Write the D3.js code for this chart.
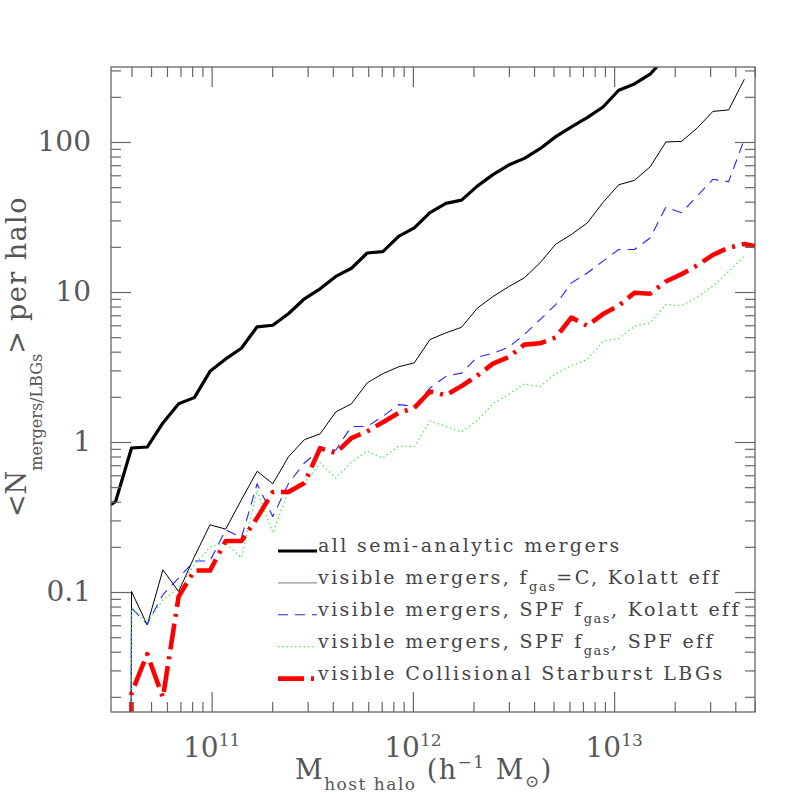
<!DOCTYPE html>
<html>
<head>
<meta charset="utf-8">
<script src="https://cdn.jsdelivr.net/npm/d3@7"></script>
<style>
  body { margin: 0; background: #fff; }
  svg { display: block; }
  text { font-family: "DejaVu Serif", serif; white-space: pre; }
</style>
</head>
<body>
<svg width="797" height="797"></svg>
<script>
// log10 of host halo mass (h^-1 Msun), one entry per mass bin
var logMass = [10.445, 10.523, 10.602, 10.680, 10.758, 10.836, 10.914, 10.992, 11.070, 11.148,
               11.226, 11.304, 11.383, 11.461, 11.539, 11.617, 11.695, 11.773, 11.851, 11.929,
               12.007, 12.085, 12.164, 12.242, 12.320, 12.398, 12.476, 12.554, 12.632, 12.710,
               12.788, 12.866, 12.945, 13.023, 13.101, 13.179, 13.257, 13.335, 13.413, 13.491,
               13.569, 13.647, 13.726];

// <N> per halo for each model (null = not plotted, 0 = no mergers in that bin)
var allMergers = [0.345, 0.401, 0.912, 0.926, 1.339, 1.80, 1.976, 2.96, 3.58, 4.22,
                  5.86, 6.00, 7.19, 9.01, 10.5, 12.7, 14.4, 18.2, 18.6, 23.5,
                  26.8, 33.8, 39.0, 41.0, 50.8, 60.6, 70.2, 77.8, 90.3, 108.6,
                  126.3, 145.5, 171.2, 221.4, 243.9, 283.1, 370, null, null, null,
                  null, null, null];

var visKolatt = [null, 0, 0.1007, 0.0603, 0.1405, 0.1007, 0.1715, 0.2805, 0.2625, 0.412,
                 0.638, 0.527, 0.801, 1.036, 1.133, 1.586, 1.80, 2.476, 2.857, 3.17,
                 3.37, 4.82, 5.34, 5.82, 7.80, 9.33, 10.85, 12.44, 15.66, 20.85,
                 24.2, 28.8, 39.6, 51.9, 55.5, 68.3, 100, 101, 124, 160,
                 163.6, 262, null];

var visSpfKolatt = [null, 0, 0.0783, 0.061, 0.096, 0.124, 0.161, 0.161, 0.26, 0.23,
                    0.527, 0.319, 0.532, 0.724, 0.888, 0.884, 1.27, 1.27, 1.48, 1.775,
                    1.73, 2.29, 2.74, 2.88, 3.68, 3.90, 4.29, 5.20, 6.55, 8.25,
                    11.5, 13.4, 16.05, 19.2, 19.2, 22.9, 36.8, 33.8, 43.7, 56.4,
                    54.4, 104, null];

var visSpfSpf = [null, 0, 0.0783, 0.0627, 0.0886, 0.1065, 0.1517, 0.20, 0.213, 0.169,
                 0.477, 0.247, 0.48, 0.532, 0.724, 0.575, 0.733, 0.871, 0.782, 0.94,
                 0.93, 1.381, 1.27, 1.168, 1.388, 1.796, 2.08, 2.44, 2.34, 2.85,
                 3.23, 3.54, 4.69, 4.89, 5.91, 6.23, 8.25, 8.09, 9.26, 10.96,
                 13.7, 17.3, null];

var visLBG = [null, 0, 0.0212, 0.0386, 0.0198, 0.0932, 0.139, 0.139, 0.219, 0.219,
              0.312, 0.4636, 0.465, 0.532, 0.909, 0.845, 1.063, 1.177, 1.356, 1.562,
              1.687, 2.17, 2.05, 2.36, 2.77, 3.33, 3.68, 4.46, 4.55, 4.98,
              6.76, 5.95, 7.13, 8.10, 9.88, 9.74, 11.75, 13.15, 15.08, 17.66,
              19.72, 20.9, 19.9];

// legend labels, split into [text, "sub"] pieces
var legendLabels = [
    [["all semi-analytic mergers"]],
    [["visible mergers, f"], ["gas", "sub"], ["=C, Kolatt eff"]],
    [["visible mergers, SPF f"], ["gas", "sub"], [", Kolatt eff"]],
    [["visible mergers, SPF f"], ["gas", "sub"], [", SPF eff"]],
    [["visible Collisional Starburst LBGs"]]
];

var yTickLabels = {0.1: "0.1", 1: "1", 10: "10", 100: "100"};

// styles for each series (same order as legend)
var seriesData = [allMergers, visKolatt, visSpfKolatt, visSpfSpf, visLBG];
var seriesStyle = [
    {color: "#000", width: 3.2, dash: null},
    {color: "#000", width: 1, dash: null},
    {color: "#2222ff", width: 1.1, dash: "10,7"},
    {color: "#33ee33", width: 1.3, dash: "1.3,3"},
    {color: "#ff0000", width: 4.6, dash: "26,7,3,7"}
];

var svg = d3.select("svg");

// plot frame in pixels (note: "top" is taken by window.top)
var frameL = 111, frameR = 755, frameT = 67, frameB = 712;

var x = d3.scaleLog()
    .domain([Math.pow(10, 10.5), Math.pow(10, 13.7)])
    .range([frameL, frameR]);

var y = d3.scaleLog()
    .domain([Math.pow(10, -1.8), Math.pow(10, 2.5)])
    .range([frameB, frameT]);

function isDecade(v) {
    var l = Math.log10(v);
    return Math.abs(l - Math.round(l)) < 1e-9;
}

var xMajor = x.ticks().filter(isDecade),
    xMinor = x.ticks().filter(function (v) { return !isDecade(v); }),
    yMajor = y.ticks().filter(isDecade),
    yMinor = y.ticks().filter(function (v) { return !isDecade(v); });

// clip so lines stay inside the frame
svg.append("clipPath").attr("id", "plotClip")
    .append("rect")
    .attr("x", frameL).attr("y", frameT)
    .attr("width", frameR - frameL).attr("height", frameB - frameT);

// curves
var line = d3.line()
    .defined(function (d) { return d.v !== null; })
    .x(function (d) { return x(Math.pow(10, d.m)); })
    .y(function (d) { return y(Math.max(d.v, 1e-30)); }); // zero bins drop straight off the bottom

var curves = svg.append("g").attr("clip-path", "url(#plotClip)");
seriesData.forEach(function (vals, k) {
    var pts = logMass.map(function (m, i) { return {m: m, v: vals[i]}; });
    var st = seriesStyle[k];
    curves.append("path")
        .datum(pts)
        .attr("d", line)
        .attr("fill", "none")
        .attr("stroke", st.color)
        .attr("stroke-width", st.width)
        .attr("stroke-dasharray", st.dash)
        .attr("stroke-linejoin", "round");
});

// ticks on all four sides, pointing inward
var tickColor = "#666";
function addAxis(axisFn, scale, values, size, tx, ty) {
    var g = svg.append("g")
        .attr("transform", "translate(" + tx + "," + ty + ")")
        .call(axisFn(scale).tickValues(values).tickSize(size).tickFormat(""));
    g.select(".domain").remove();
    g.attr("color", tickColor).selectAll("line").attr("stroke-width", 1.2);
    return g;
}
addAxis(d3.axisBottom, x, xMinor, -10, 0, frameB);
addAxis(d3.axisBottom, x, xMajor, -20, 0, frameB);
addAxis(d3.axisTop, x, xMinor, -10, 0, frameT);
addAxis(d3.axisTop, x, xMajor, -20, 0, frameT);
addAxis(d3.axisLeft, y, yMinor, -10, frameL, 0);
addAxis(d3.axisRight, y, yMinor, -10, frameR, 0);
addAxis(d3.axisRight, y, yMajor, -20, frameR, 0);

// left major ticks carry the labels
var yAxisG = svg.append("g")
    .attr("transform", "translate(" + frameL + ",0)")
    .call(d3.axisLeft(y).tickValues(yMajor).tickSize(-20).tickPadding(20)
        .tickFormat(function (d) { return yTickLabels[d]; }));
yAxisG.select(".domain").remove();
yAxisG.attr("color", "#595959").attr("font-size", 28).attr("font-family", "DejaVu Serif, serif");
yAxisG.selectAll("line").attr("stroke", tickColor).attr("stroke-width", 1.2);

// frame
svg.append("rect")
    .attr("x", frameL).attr("y", frameT)
    .attr("width", frameR - frameL).attr("height", frameB - frameT)
    .attr("fill", "none")
    .attr("stroke", tickColor)
    .attr("stroke-width", 1.3);

// x tick labels 10^n
xMajor.forEach(function (v) {
    var t = svg.append("text")
        .attr("x", x(v)).attr("y", 757)
        .attr("text-anchor", "middle")
        .attr("fill", "#595959")
        .attr("font-size", 28);
    t.append("tspan").text("10");
    t.append("tspan").attr("font-size", 17).attr("dy", -11).text(Math.round(Math.log10(v)));
});

// text made of pieces with their own baseline shift and size
function richText(t, parts) {
    var cur = 0;
    parts.forEach(function (p) {
        var ts = t.append("tspan").text(p.text).attr("dy", p.shift - cur);
        if (p.size) ts.attr("font-size", p.size);
        if (p.ls !== undefined) ts.attr("letter-spacing", p.ls);
        cur = p.shift;
    });
}

// axis titles
var xTitle = svg.append("text")
    .attr("x", 295).attr("y", 779)
    .attr("fill", "#555")
    .attr("font-size", 27)
    .attr("letter-spacing", 1.5);
richText(xTitle, [
    {text: "M", shift: 0},
    {text: "host halo", shift: 11, size: 17, ls: 1.5},
    {text: " (h", shift: 0},
    {text: "\u22121", shift: -11, size: 17},
    {text: " M", shift: 0},
    {text: "\u2299", shift: 8, size: 17},
    {text: ")", shift: 0}
]);

var yTitle = svg.append("text")
    .attr("transform", "translate(26,517) rotate(-90)")
    .attr("fill", "#555")
    .attr("font-size", 27);
richText(yTitle, [
    {text: "<N", shift: 0},
    {text: "mergers/LBGs", shift: 16, size: 16},
    {text: ">", shift: 0},
    {text: " per halo", shift: 0, ls: 1.5}
]);

// legend
var legendX0 = 278, legendX1 = 317, legendY0 = 551, legendStep = 31.9;
legendLabels.forEach(function (parts, k) {
    var ly = legendY0 + k * legendStep;
    var st = seriesStyle[k];
    svg.append("line")
        .attr("x1", legendX0).attr("x2", legendX1)
        .attr("y1", ly).attr("y2", ly)
        .attr("stroke", k === 1 ? "#777" : st.color)
        .attr("stroke-width", st.width)
        .attr("stroke-dasharray", st.dash);
    var t = svg.append("text")
        .attr("x", legendX1 + 1).attr("y", ly + 1)
        .attr("fill", "#444")
        .attr("font-size", 19)
        .attr("letter-spacing", 2.4);
    richText(t, parts.map(function (p) {
        return p[1] === "sub" ? {text: p[0], shift: 7, size: 13, ls: 1.5} : {text: p[0], shift: 0};
    }));
});
</script>
</body>
</html>
